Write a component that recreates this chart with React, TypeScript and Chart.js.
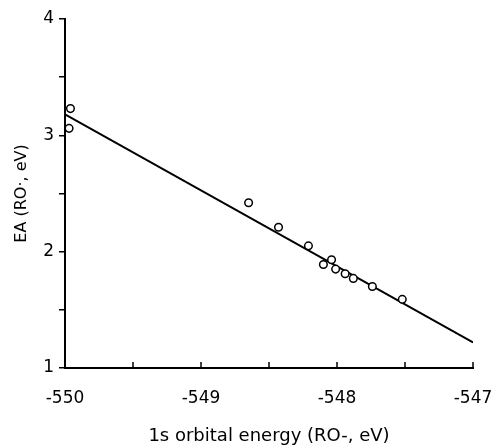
import React, { useEffect, useRef } from "react";
import { Chart, registerables } from "chart.js";

Chart.register(...registerables);

// 1s orbital energy (RO-, eV)
const orbitalEnergy = [-549.96, -549.97, -548.65, -548.43, -548.21, -548.04, -548.1, -548.01, -547.94, -547.88, -547.74, -547.52];
// EA (RO·, eV)
const electronAffinity = [3.23, 3.06, 2.42, 2.21, 2.05, 1.93, 1.89, 1.85, 1.81, 1.77, 1.7, 1.59];
// fitted line end points
const fitX = [-550, -547];
const fitY = [3.18, 1.22];

const xMin = -550;
const xMax = -547;
const yMin = 1;
const yMax = 4;
const tickStep = 0.5;

const FONT = "'DejaVu Sans', sans-serif";

const inwardXTicks = {
  id: "inwardXTicks",
  afterDraw(chart: any) {
    const x = chart.scales.x;
    const { ctx, chartArea } = chart;
    ctx.save();
    ctx.strokeStyle = "#000";
    ctx.lineWidth = 1.5;
    x.ticks.forEach((t: any) => {
      const px = x.getPixelForValue(t.value);
      ctx.beginPath();
      ctx.moveTo(px, chartArea.bottom);
      ctx.lineTo(px, chartArea.bottom - 6);
      ctx.stroke();
    });
    ctx.restore();
  },
};

export default function App() {
  const ref = useRef<HTMLCanvasElement | null>(null);
  useEffect(() => {
    if (!ref.current) return;
    const points = orbitalEnergy.map((x, i) => ({ x, y: electronAffinity[i] }));
    const fit = fitX.map((x, i) => ({ x, y: fitY[i] }));
    const chart = new Chart(ref.current, {
      type: "scatter",
      data: {
        datasets: [
          {
            type: "line",
            data: fit,
            borderColor: "#000",
            borderWidth: 2,
            pointRadius: 0,
            fill: false,
            order: 2,
          },
          {
            type: "scatter",
            data: points,
            pointRadius: 3.8,
            pointBorderWidth: 1.5,
            pointBorderColor: "#000",
            pointBackgroundColor: "#fff",
            order: 1,
          },
        ],
      },
      options: {
        responsive: false,
        animation: false,
        layout: { padding: { left: 0, right: 19, top: 19, bottom: 0 } },
        plugins: { legend: { display: false }, tooltip: { enabled: false } },
        scales: {
          x: {
            type: "linear",
            min: xMin,
            max: xMax,
            afterFit: (s: any) => {
              s.height = 79;
              s.paddingLeft = 0;
              s.paddingRight = 0;
            },
            grid: { display: false, drawTicks: false },
            border: { display: true, color: "#000", width: 2 },
            ticks: {
              stepSize: tickStep,
              autoSkip: false,
              maxRotation: 0,
              padding: 20,
              color: "#000",
              font: { family: FONT, size: 17 },
              callback: (v: any) => (Number.isInteger(Number(v)) ? String(v) : ""),
            },
            title: {
              display: true,
              text: "1s orbital energy (RO-, eV)",
              color: "#000",
              font: { family: FONT, size: 18 },
              padding: { top: 0, bottom: 0 },
            },
          },
          y: {
            type: "linear",
            min: yMin,
            max: yMax,
            afterFit: (s: any) => {
              s.width = 65;
            },
            grid: {
              display: true,
              drawOnChartArea: false,
              drawTicks: true,
              tickLength: 6,
              color: "#000",
              lineWidth: 1.5,
            },
            border: { display: true, color: "#000", width: 2 },
            ticks: {
              stepSize: tickStep,
              autoSkip: false,
              padding: 5,
              color: "#000",
              font: { family: FONT, size: 17 },
              callback: (v: any) => (Number.isInteger(Number(v)) ? String(v) : ""),
            },
            title: {
              display: true,
              text: "EA (RO·, eV)",
              color: "#000",
              font: { family: FONT, size: 16 },
              padding: { top: 12, bottom: 12 },
            },
          },
        },
      },
      plugins: [inwardXTicks],
    });
    return () => chart.destroy();
  }, []);
  return (
    <div style={{ position: "absolute", left: 0, top: 0, width: 492, height: 447, background: "#fff" }}>
      <canvas ref={ref} width={492} height={447} />
    </div>
  );
}
